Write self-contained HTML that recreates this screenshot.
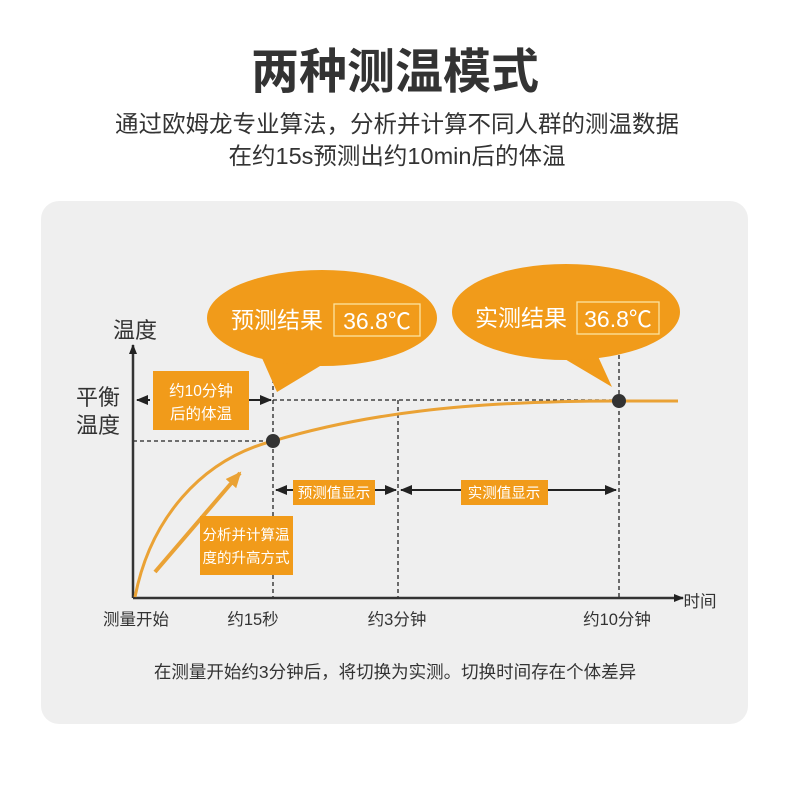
<!DOCTYPE html>
<html><head><meta charset="utf-8"><style>
html,body{margin:0;padding:0;background:#fff;}
body{width:790px;height:782px;overflow:hidden;font-family:"Liberation Sans","Noto Sans CJK SC",sans-serif;}
</style></head><body>
<svg width="790" height="782" viewBox="0 0 790 782" xmlns="http://www.w3.org/2000/svg" font-family="'Liberation Sans','Noto Sans CJK SC',sans-serif">
<defs>
<marker id="ah" markerWidth="10" markerHeight="8" refX="9" refY="4" orient="auto" markerUnits="userSpaceOnUse"><path d="M0,0 L10,4 L0,8 z" fill="#222"/></marker>
<marker id="ahs" markerWidth="12" markerHeight="10" refX="11" refY="5" orient="auto-start-reverse" markerUnits="userSpaceOnUse"><path d="M0,0 L12,5 L0,10 z" fill="#222"/></marker>
<marker id="ao" markerWidth="16" markerHeight="14" refX="14" refY="7" orient="auto" markerUnits="userSpaceOnUse"><path d="M0,0 L16,7 L0,14 z" fill="#eaa235"/></marker>
</defs>
<text x="395" y="88" text-anchor="middle" font-size="48" font-weight="bold" fill="#333">两种测温模式</text>
<text x="397" y="132" text-anchor="middle" font-size="23.5" fill="#333">通过欧姆龙专业算法，分析并计算不同人群的测温数据</text>
<text x="397" y="164" text-anchor="middle" font-size="23.5" fill="#333">在约15s预测出约10min后的体温</text>
<rect x="41" y="201" width="707" height="523" rx="18" fill="#efefef"/>

<g stroke="#222" stroke-width="1.3" stroke-dasharray="4,3" fill="none">
<line x1="273" y1="365" x2="273" y2="598"/>
<line x1="398" y1="400" x2="398" y2="598"/>
<line x1="619" y1="355" x2="619" y2="598"/>
<line x1="273" y1="400" x2="619" y2="400"/>
<line x1="133" y1="441" x2="273" y2="441"/>
</g>
<line x1="133" y1="598" x2="133" y2="345" stroke="#333" stroke-width="2.5" marker-end="url(#ah)"/>
<line x1="133" y1="598" x2="683" y2="598" stroke="#333" stroke-width="2.5" marker-end="url(#ah)"/>
<path d="M135,597 C150,520 200,460 273,441 C360,415 460,401 619,401 L678,401" stroke="#eaa235" stroke-width="3" fill="none"/>
<circle cx="273" cy="441" r="7" fill="#333"/>
<circle cx="619" cy="401" r="7" fill="#333"/>
<line x1="155" y1="572" x2="240" y2="473" stroke="#eaa235" stroke-width="4" marker-end="url(#ao)"/>

<path d="M262,358 L277,392 L330,360 z" fill="#f19b1a"/>
<ellipse cx="322" cy="318" rx="115" ry="48" fill="#f19b1a"/>
<text x="231" y="328" font-size="23" fill="#fff">预测结果</text>
<rect x="334" y="304" width="86" height="32" fill="none" stroke="#fbe3a0" stroke-width="1.3"/>
<text x="377" y="329" text-anchor="middle" font-size="23" fill="#fff">36.8℃</text>

<path d="M558,355 L612,387 L596,352 z" fill="#f19b1a"/>
<ellipse cx="566" cy="312" rx="114" ry="48" fill="#f19b1a"/>
<text x="475" y="326" font-size="23" fill="#fff">实测结果</text>
<rect x="577" y="302" width="82" height="32" fill="none" stroke="#fbe3a0" stroke-width="1.3"/>
<text x="618" y="327" text-anchor="middle" font-size="23" fill="#fff">36.8℃</text>

<line x1="150" y1="400" x2="137" y2="400" stroke="#222" stroke-width="2" marker-end="url(#ahs)"/>
<line x1="245" y1="400" x2="271" y2="400" stroke="#222" stroke-width="2" marker-end="url(#ahs)"/>
<rect x="153" y="371" width="96" height="59" fill="#f19b1a"/>
<text x="201" y="396" text-anchor="middle" font-size="15.5" fill="#fff">约10分钟</text>
<text x="201" y="419" text-anchor="middle" font-size="15.5" fill="#fff">后的体温</text>

<line x1="276" y1="490" x2="396" y2="490" stroke="#222" stroke-width="2" marker-start="url(#ahs)" marker-end="url(#ahs)"/>
<rect x="293" y="480" width="82" height="25" fill="#f19b1a"/>
<text x="334" y="498" text-anchor="middle" font-size="14.5" fill="#fff">预测值显示</text>
<line x1="401" y1="490" x2="616" y2="490" stroke="#222" stroke-width="2" marker-start="url(#ahs)" marker-end="url(#ahs)"/>
<rect x="461" y="480" width="87" height="25" fill="#f19b1a"/>
<text x="504" y="498" text-anchor="middle" font-size="14.5" fill="#fff">实测值显示</text>

<rect x="200" y="516" width="93" height="59" fill="#f19b1a"/>
<text x="246" y="540" text-anchor="middle" font-size="14.5" fill="#fff">分析并计算温</text>
<text x="246" y="563" text-anchor="middle" font-size="14.5" fill="#fff">度的升高方式</text>

<text x="135" y="338" text-anchor="middle" font-size="22" fill="#333">温度</text>
<text x="98" y="405" text-anchor="middle" font-size="22" fill="#333">平衡</text>
<text x="98" y="433" text-anchor="middle" font-size="22" fill="#333">温度</text>
<text x="700" y="607" text-anchor="middle" font-size="16.5" fill="#333">时间</text>
<text x="136" y="625" text-anchor="middle" font-size="16.5" fill="#333">测量开始</text>
<text x="253" y="625" text-anchor="middle" font-size="16.5" fill="#333">约15秒</text>
<text x="397" y="625" text-anchor="middle" font-size="16.5" fill="#333">约3分钟</text>
<text x="617" y="625" text-anchor="middle" font-size="16.5" fill="#333">约10分钟</text>
<text x="395" y="678" text-anchor="middle" font-size="17.5" fill="#333">在测量开始约3分钟后，将切换为实测。切换时间存在个体差异</text>
</svg>
</body></html>
